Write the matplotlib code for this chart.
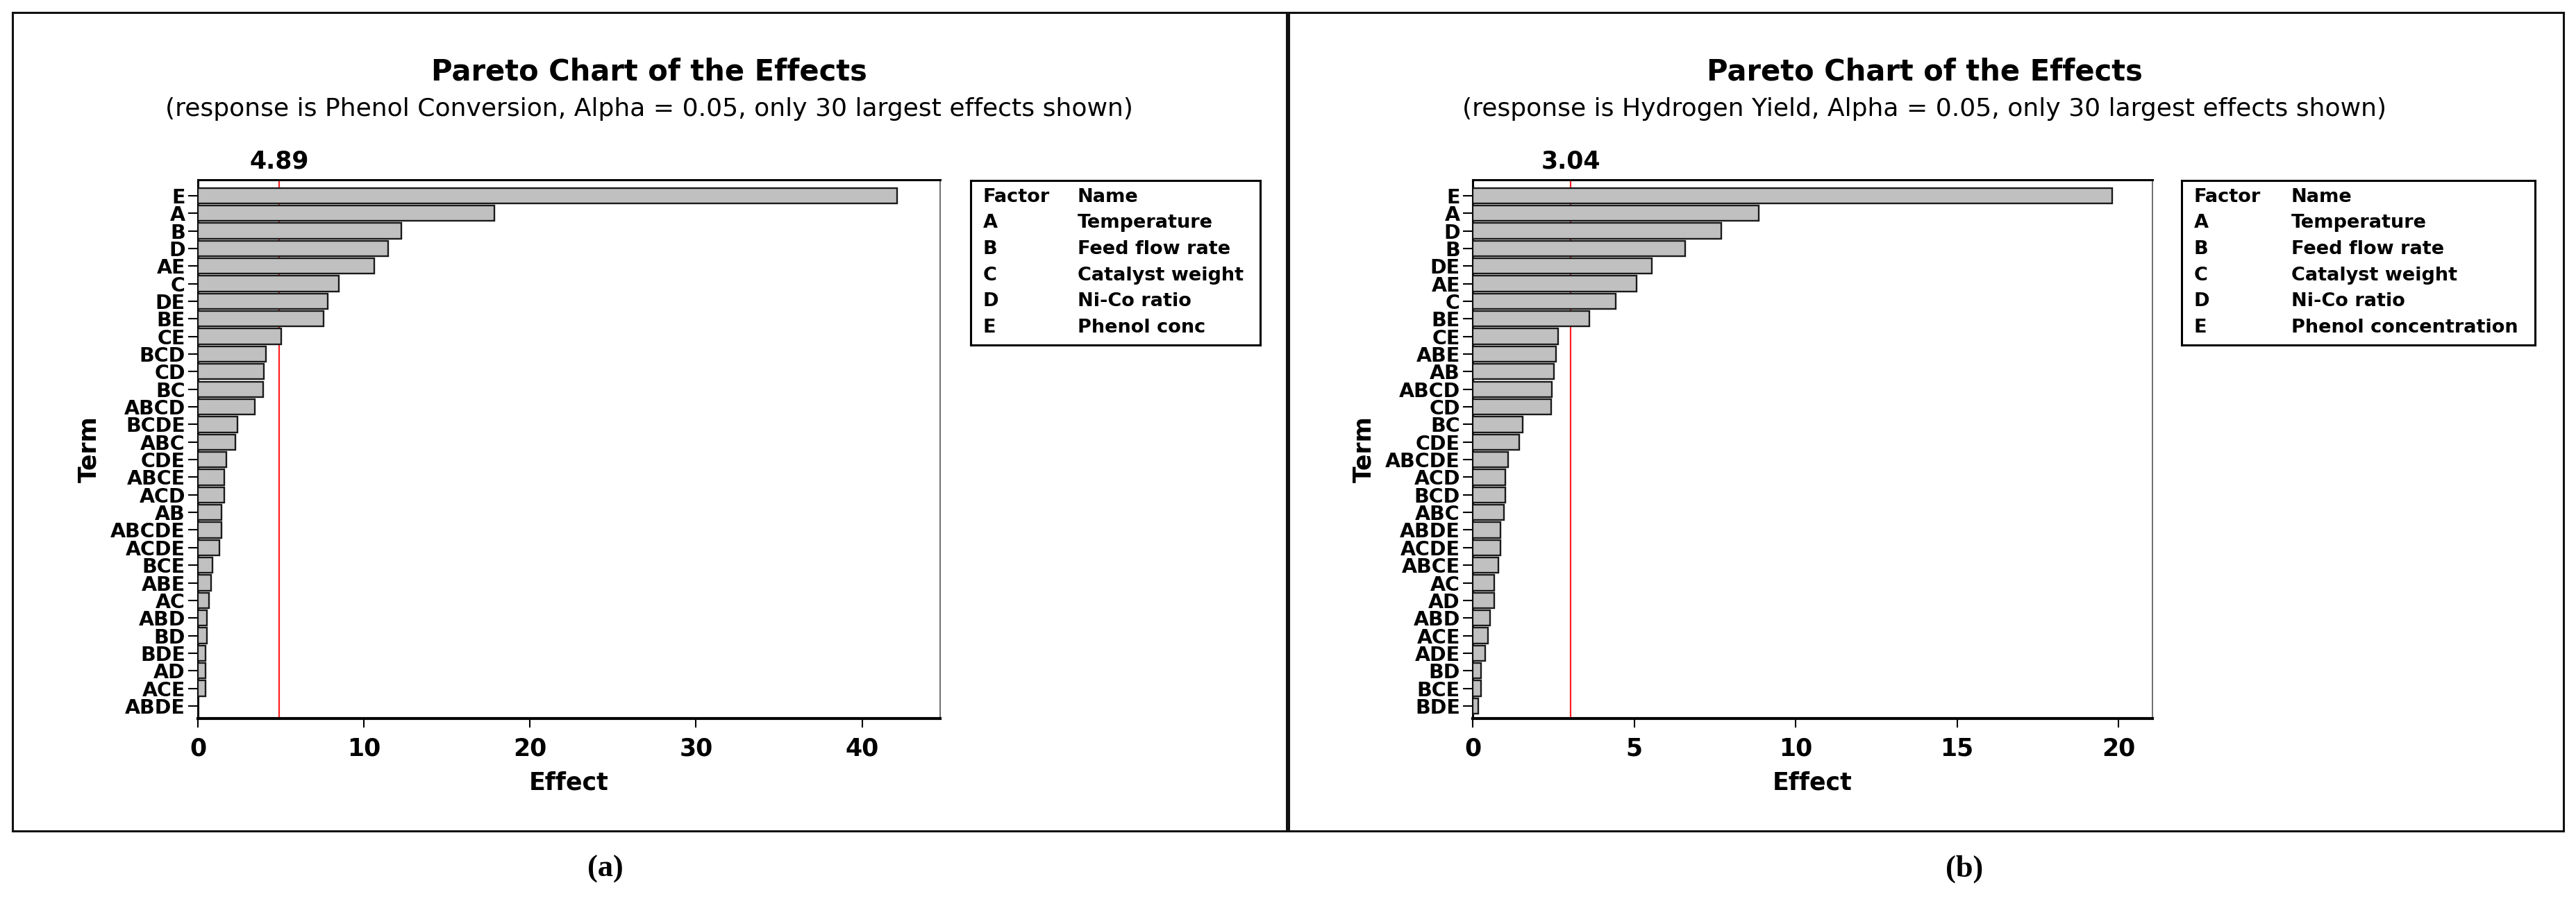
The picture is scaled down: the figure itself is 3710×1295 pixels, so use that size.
import matplotlib
matplotlib.use("Agg")
import matplotlib.pyplot as plt
from matplotlib.patches import Rectangle

# panel (a): phenol conversion
terms_a = ["E", "A", "B", "D", "AE", "C", "DE", "BE", "CE", "BCD", "CD", "BC",
           "ABCD", "BCDE", "ABC", "CDE", "ABCE", "ACD", "AB", "ABCDE", "ACDE",
           "BCE", "ABE", "AC", "ABD", "BD", "BDE", "AD", "ACE", "ABDE"]
effects_a = [42.1, 17.85, 12.24, 11.44, 10.64, 8.48, 7.84, 7.57, 5.01, 4.08, 3.97,
             3.92, 3.44, 2.37, 2.24, 1.71, 1.57, 1.57, 1.44, 1.41, 1.31, 0.88,
             0.80, 0.66, 0.56, 0.55, 0.47, 0.46, 0.45, 0.02]
limit_a = 4.89
names_a = ["Temperature", "Feed flow rate", "Catalyst weight", "Ni-Co ratio",
           "Phenol conc"]
subtitle_a = "(response is Phenol Conversion, Alpha = 0.05, only 30 largest effects shown)"

# panel (b): hydrogen yield
terms_b = ["E", "A", "D", "B", "DE", "AE", "C", "BE", "CE", "ABE", "AB", "ABCD",
           "CD", "BC", "CDE", "ABCDE", "ACD", "BCD", "ABC", "ABDE", "ACDE",
           "ABCE", "AC", "AD", "ABD", "ACE", "ADE", "BD", "BCE", "BDE"]
effects_b = [19.8, 8.86, 7.70, 6.59, 5.55, 5.07, 4.44, 3.62, 2.65, 2.58, 2.52,
             2.45, 2.44, 1.55, 1.43, 1.09, 1.02, 1.01, 0.96, 0.86, 0.86, 0.80,
             0.67, 0.67, 0.53, 0.48, 0.39, 0.26, 0.25, 0.18]
limit_b = 3.04
names_b = ["Temperature", "Feed flow rate", "Catalyst weight", "Ni-Co ratio",
           "Phenol concentration"]
subtitle_b = "(response is Hydrogen Yield, Alpha = 0.05, only 30 largest effects shown)"

factors = ["A", "B", "C", "D", "E"]

W, H = 3710, 1295
plt.rcParams["font.family"] = ["DejaVu Sans"]
fig = plt.figure(figsize=(W / 100, H / 100), dpi=100)


def px(x0, y0, x1, y1):
    # pixel box -> figure fraction [left, bottom, width, height]
    return [x0 / W, 1 - y1 / H, (x1 - x0) / W, (y1 - y0) / H]


def pareto(box, terms, effects, limit, xmax, xticks):
    ax = fig.add_axes(px(*box))
    ypos = list(range(len(terms)))
    ax.barh(ypos, effects, height=0.88, color="#c0c0c0", edgecolor="#1a1a1a",
            linewidth=1.7, zorder=3)
    ax.axvline(limit, color="#ff2020", lw=1.6, zorder=2)
    ax.set_xlim(0, xmax)
    ax.set_ylim(len(terms) - 0.29, -0.9)
    ax.set_yticks(ypos)
    ax.set_yticklabels(terms, fontsize=20.5, fontweight="bold")
    ax.set_xticks(xticks)
    ax.set_xticklabels([str(t) for t in xticks], fontsize=25, fontweight="bold")
    ax.tick_params(axis="y", length=10, width=1.5, pad=3)
    ax.tick_params(axis="x", length=9, width=1.5, pad=10)
    ax.set_xlabel("Effect", fontsize=25, fontweight="bold", labelpad=11)
    ax.set_ylabel("Term", fontsize=25, fontweight="bold", labelpad=10)
    for s in ["left", "top"]:
        ax.spines[s].set_linewidth(2.2)
    ax.spines["bottom"].set_linewidth(3)
    ax.spines["right"].set_linewidth(1.2)
    ax.spines["right"].set_color("#555555")
    ax.text(limit, 1.012, f"{limit:.2f}", transform=ax.get_xaxis_transform(),
            ha="center", va="bottom", fontsize=25, fontweight="bold")
    return ax


def factor_box(box, names):
    lg = fig.add_axes(px(*box))
    lg.set_xticks([])
    lg.set_yticks([])
    for s in lg.spines.values():
        s.set_linewidth(2.2)
    lg.set_xlim(0, box[2] - box[0])
    lg.set_ylim(box[3] - box[1], 0)
    rows = [("Factor", "Name")] + list(zip(factors, names))
    name_x = 154 if len(names[-1]) < 15 else 158
    for i, (f, n) in enumerate(rows):
        y = 24 + i * 37.5
        lg.text(18, y, f, fontsize=19.5, fontweight="bold", va="center")
        lg.text(name_x, y, n, fontsize=19.5, fontweight="bold", va="center")


pareto((285, 259, 1354, 1035), terms_a, effects_a, limit_a, 44.7, [0, 10, 20, 30, 40])
pareto((2121, 259, 3100, 1035), terms_b, effects_b, limit_b, 21.05, [0, 5, 10, 15, 20])
factor_box((1398, 260, 1815, 497), names_a)
factor_box((3142, 260, 3651, 497), names_b)

# panel frames
for x0, x1 in [(18, 1853), (1856, 3692)]:
    fig.patches.append(Rectangle((x0 / W, 1 - 1197 / H), (x1 - x0) / W,
                                 (1197 - 18) / H, transform=fig.transFigure,
                                 fill=False, lw=2.2, ec="#111111"))

for cx, sub, lab, lx in [(935, subtitle_a, "(a)", 872), (2772, subtitle_b, "(b)", 2829)]:
    fig.text(cx / W, 1 - 103 / H, "Pareto Chart of the Effects", ha="center",
             va="center", fontsize=30, fontweight="bold")
    fig.text(cx / W, 1 - 157 / H, sub, ha="center", va="center", fontsize=26)
    fig.text(lx / W, 1 - 1252 / H, lab, ha="center", va="center", fontsize=32,
             fontweight="bold", family="Liberation Serif")

fig.savefig("out.png", dpi=100)
